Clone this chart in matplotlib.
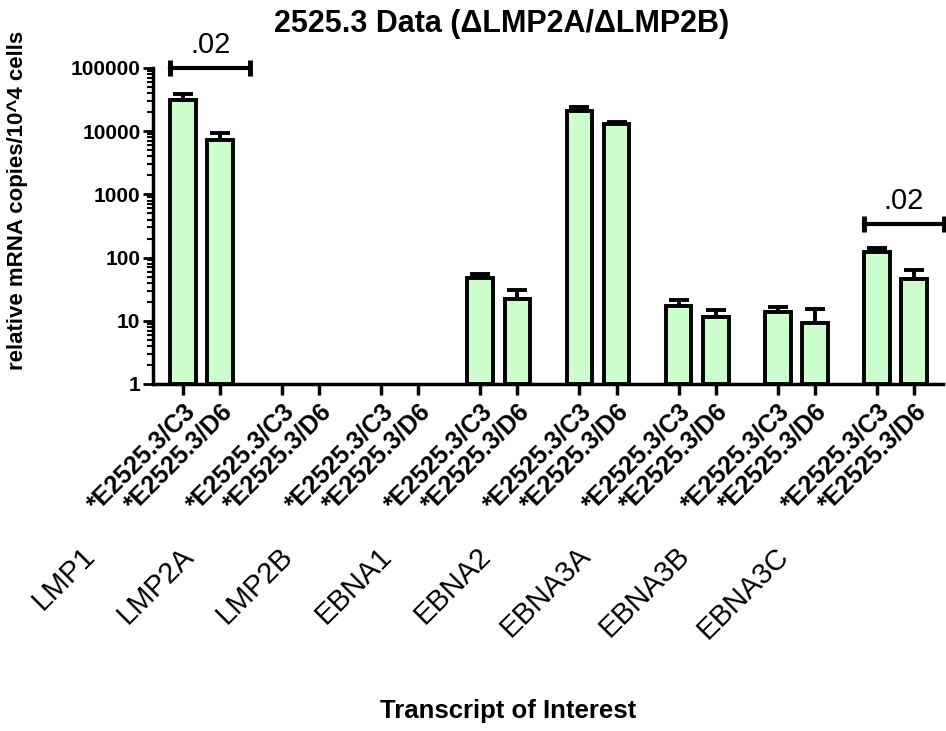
import numpy as np
import matplotlib.pyplot as plt

plt.rcParams['font.family'] = ['Liberation Sans', 'DejaVu Sans']

# data (log scale, copies per 10^4 cells)
transcripts = ["LMP1", "LMP2A", "LMP2B", "EBNA1", "EBNA2", "EBNA3A", "EBNA3B", "EBNA3C"]
clones = ["*E2525.3/C3", "*E2525.3/D6"]
c3_mean = [31000, np.nan, np.nan, 47, 21000, 17, 14, 122]
c3_err = [8000, np.nan, np.nan, 9, 3000, 4, 2.3, 19]
d6_mean = [7200, np.nan, np.nan, 22, 13000, 11.5, 9.2, 46]
d6_err = [2200, np.nan, np.nan, 9, 1200, 3.5, 6.3, 17]

# significance brackets: (group index, label, y level)
brackets = [(0, ".02", 100000), (7, ".02", 340)]

bar_color = "#ccffcc"
pair_off = 0.187
bar_w = 0.26

fig = plt.figure(figsize=(9.46, 7.31), dpi=100)
ax = fig.add_axes([0.1617, 0.4747, 0.835, 0.4323])
ax.set_yscale("log")

groups = np.arange(1, len(transcripts) + 1)
x_c3 = groups - pair_off
x_d6 = groups + pair_off

for xs, means, errs in [(x_c3, c3_mean, c3_err), (x_d6, d6_mean, d6_err)]:
    means = np.array(means, dtype=float)
    errs = np.array(errs, dtype=float)
    ok = ~np.isnan(means)
    ax.bar(xs[ok], means[ok] - 1, bottom=1, width=bar_w, color=bar_color,
           edgecolor="black", linewidth=2.8, zorder=3)
    ax.errorbar(xs[ok], means[ok], yerr=[np.zeros(ok.sum()), errs[ok]], fmt="none",
                ecolor="black", elinewidth=2.8, capsize=7, capthick=2.8, zorder=2)

for g, txt, yv in brackets:
    x0 = groups[g] - pair_off - bar_w / 2
    x1 = groups[g] + 0.49
    ax.plot([x0, x1], [yv, yv], color="black", lw=3, clip_on=False, zorder=4)
    for xe in (x0, x1):
        ax.plot([xe, xe], [yv / 1.35, yv * 1.35], color="black", lw=3.5,
                clip_on=False, zorder=4, solid_capstyle="butt")
    ax.text((x0 + x1) / 2, yv * 1.7, txt, ha="center", va="baseline", fontsize=21)

ax.set_ylim(1, 100000)
ax.set_xlim(0.51, 8.48)
ax.set_yticks([1, 10, 100, 1000, 10000, 100000])
ax.set_yticklabels(["1", "10", "100", "1000", "10000", "100000"],
                   fontsize=15, fontweight="bold")
ax.tick_params(axis="y", which="major", length=7, width=2, direction="out", pad=2)
ax.tick_params(axis="y", which="minor", length=4, width=1.5, direction="out")

ticks = np.ravel(np.column_stack([x_c3, x_d6]))
ax.set_xticks(ticks)
ax.set_xticklabels(clones * len(transcripts), rotation=45, ha="right",
                   rotation_mode="anchor", fontsize=18, fontweight="bold")
ax.tick_params(axis="x", which="major", length=8, width=2.5, direction="out", pad=3)
ax.tick_params(axis="x", which="minor", length=0)

for side in ["top", "right"]:
    ax.spines[side].set_visible(False)
for side in ["left", "bottom"]:
    ax.spines[side].set_linewidth(2.5)

trans = ax.get_xaxis_transform()
for g, name in zip(groups, transcripts):
    ax.text(g - 1.12, -0.53, name, transform=trans, rotation=45, ha="right",
            va="center", rotation_mode="anchor", fontsize=21)

ax.set_ylabel("relative mRNA copies/10^4 cells", fontsize=16, fontweight="bold")
ax.yaxis.set_label_coords(-0.158, 0.58)
fig.text(0.53, 0.967, "2525.3 Data (ΔLMP2A/ΔLMP2B)", ha="center", va="center",
         fontsize=22, fontweight="bold")
fig.text(0.537, 0.027, "Transcript of Interest",
         ha="center", va="center", fontsize=18.5, fontweight="bold")

fig.savefig("out.png", dpi=100)
